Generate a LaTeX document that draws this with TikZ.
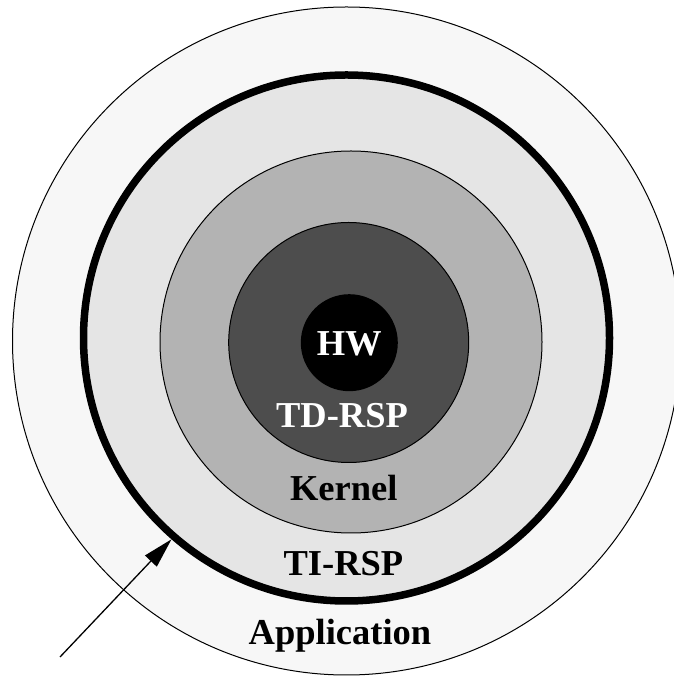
\documentclass[tikz,border=0pt]{standalone}
\usepackage{fontspec}
\setmainfont{Liberation Serif}
\usetikzlibrary{arrows.meta}
\definecolor{appgray}{HTML}{F7F7F7}
\definecolor{tigray}{HTML}{E5E5E5}
\definecolor{kergray}{HTML}{B3B3B3}
\definecolor{tdgray}{HTML}{4D4D4D}
\begin{document}
\begin{tikzpicture}[x=1pt,y=1pt,
  ring/.style={circle, draw=black, line width=1pt, inner sep=0pt, outer sep=0pt},
  lbl/.style={font=\fontsize{36.5}{40}\selectfont\bfseries, inner sep=0pt, anchor=base}]
\useasboundingbox (0,0) rectangle (674,677);
\clip (0,0) rectangle (674,677);
\node[ring, fill=appgray, minimum size=668pt] (app) at (346.5,336) {};
\node[ring, fill=tigray, line width=7.5pt, minimum size=526pt, outer sep=.5\pgflinewidth] (ti) at (346.5,339) {};
\node[ring, fill=kergray, minimum size=382pt] (ker) at (351,335) {};
\node[ring, fill=tdgray, minimum size=240pt] (td) at (348.7,334.5) {};
\node[ring, fill=black, draw=none, minimum size=97pt] (hw) at (349.3,334.3) {};
\node[lbl, text=white] (hwl) at (349.2,321) {HW};
\node[lbl, text=white] (tdl) at (342,249.7) {TD-RSP};
\node[lbl] (kerl) at (343.8,176) {Kernel};
\node[lbl] (til) at (343.4,101) {TI-RSP};
\node[lbl] (appl) at (340,32) {Application};
\coordinate (start) at (60,20);
\draw[line width=1.3pt, -{Triangle[length=30pt,width=16pt]}] (start) -- (ti.229.8);
\end{tikzpicture}
\end{document}
